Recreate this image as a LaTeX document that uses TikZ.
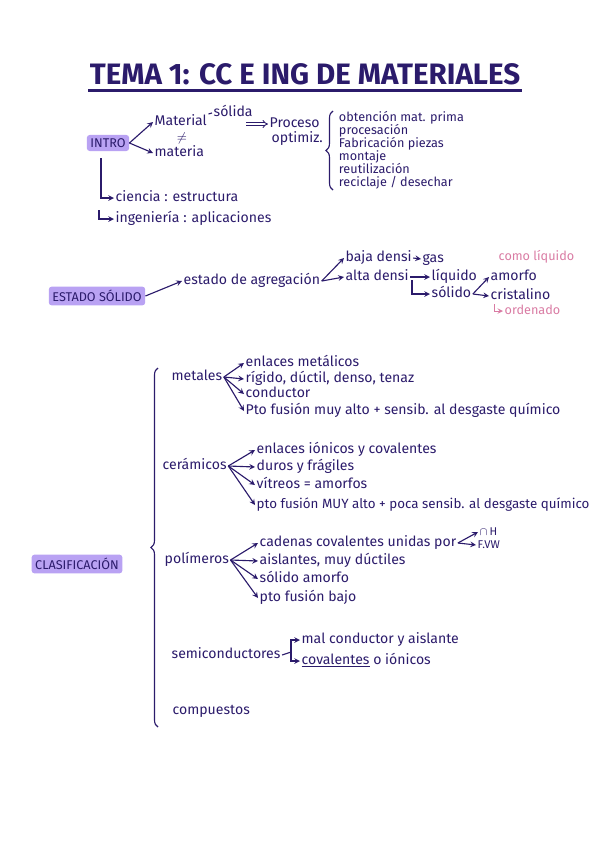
\documentclass[tikz,border=0pt]{standalone}
\usepackage{fontspec}
\setmainfont{Fira Sans}
\usepackage{tikz}
\usetikzlibrary{arrows.meta, decorations.pathreplacing}
\definecolor{ink}{HTML}{2B1B6B}
\definecolor{marker}{HTML}{B9A2F3}
\definecolor{notepink}{HTML}{D97BA3}
\tikzstyle{txt} = [inner sep=1pt, text height=7pt, text depth=2pt, text=ink, font=\fontsize{10}{12}\selectfont]
\tikzstyle{leaf} = [txt, anchor=west]
\tikzstyle{listleaf} = [leaf, inner sep=0.5pt, text height=6.5pt, text depth=1.5pt, font=\fontsize{9}{11}\selectfont]
\tikzstyle{pinknote} = [leaf, text=notepink, font=\fontsize{9}{11}\selectfont]
\tikzstyle{marked} = [rectangle, rounded corners=2pt, fill=marker, text=ink, inner sep=2.5pt, font=\fontsize{9}{11}\selectfont]
\tikzstyle{heading} = [inner sep=1pt, text=ink, font=\fontsize{21}{24}\selectfont\bfseries]
\tikzstyle{arrow} = [ink, line width=0.8pt, ->, >=stealth]
\tikzstyle{pinkarrow} = [notepink, line width=0.7pt, ->, >=stealth]
\tikzstyle{curly} = [ink, line width=0.8pt, decorate, decoration={brace, amplitude=5pt}]

\begin{document}
\begin{tikzpicture}[x=0.025cm, y=-0.025cm]
    \useasboundingbox (0,0) rectangle (600,848);

    % ===============================
    % 1. TITLE
    % ===============================
    \node[heading] (title) at (305,74) {TEMA 1: CC E ING DE MATERIALES};
    \draw[ink, line width=2pt] ([yshift=-3pt]title.south west) -- ([yshift=-3pt]title.south east);

    % ===============================
    % 2. INTRO
    % ===============================
    \node[marked] (intro) at (108,143) {INTRO};
    \node[leaf] (material) at (153,122) {Material};
    \node[txt, inner sep=0pt, text height=5pt, text depth=0.5pt, font=\fontsize{9}{10}\selectfont] (neq) at (182,138.5) {$\neq$};
    \node[leaf] (materia) at (153,153) {materia};
    \node[leaf] (solida) at (212,113) {sólida};
    \node[leaf] (proceso) at (268,124) {Proceso};
    \node[leaf] (optimiz) at (270,139) {optimiz.};
    \coordinate (procin) at (246,124);

    % list of the process
    \node[listleaf] (obtencion) at (338,118) {obtención mat. prima};
    \node[listleaf] (procesacion) at (338,131) {procesación};
    \node[listleaf] (fabricacion) at (338,144) {Fabricación piezas};
    \node[listleaf] (montaje) at (338,157) {montaje};
    \node[listleaf] (reutilizacion) at (338,170) {reutilización};
    \node[listleaf] (reciclaje) at (338,183) {reciclaje / desechar};

    % ciencia / ingenieria
    \node[leaf] (ciencia) at (114,198) {ciencia : estructura};
    \node[leaf] (ingenieria) at (114,219) {ingeniería : aplicaciones};
    \coordinate (introstem) at (101,158);
    \coordinate (ingstem) at (99,210);

    \draw[arrow] (intro.east) -- (material.west);
    \draw[arrow] (intro.east) -- (materia.west);
    \draw[ink, line width=0.8pt] (material.north east) -- (solida.west);
    \draw[ink, double, double distance=1.3pt, line width=0.6pt, -{Implies}] (procin) -- (proceso.west);
    \draw[curly] (333,190) -- (333,111);
    \draw[arrow] (introstem) |- (ciencia.west);
    \draw[arrow] (ingstem) |- (ingenieria.west);

    % ===============================
    % 3. ESTADO SOLIDO
    % ===============================
    \node[marked] (estado) at (97,296) {ESTADO SÓLIDO};
    \node[leaf] (agregacion) at (182,281) {estado de agregación};
    \node[leaf] (baja) at (344,258) {baja densi};
    \node[leaf] (gas) at (421,259) {gas};
    \node[leaf] (alta) at (344,277) {alta densi};
    \node[leaf] (liquido) at (430,277) {líquido};
    \node[leaf] (solido) at (430,294) {sólido};
    \node[leaf] (amorfo) at (489,277) {amorfo};
    \node[leaf] (cristalino) at (489,296) {cristalino};
    \node[pinknote] (comoliq) at (497,257) {como líquido};
    \node[pinknote] (ordenado) at (503,311) {ordenado};
    \coordinate (altastem) at (412,280);
    \coordinate (ordstem) at (494,304);

    \draw[arrow] (estado.east) -- (agregacion.west);
    \draw[arrow] (agregacion.east) -- (baja.west);
    \draw[arrow] (agregacion.east) -- (alta.west);
    \draw[arrow] (baja.east) -- (gas.west);
    \draw[arrow] (alta.east) -- (liquido.west);
    \draw[arrow] (altastem) |- (solido.west);
    \draw[arrow] (solido.east) -- (amorfo.west);
    \draw[arrow] (solido.east) -- (cristalino.west);
    \draw[pinkarrow] (ordstem) |- (ordenado.west);

    % ===============================
    % 4. CLASIFICACION
    % ===============================
    \node[marked] (clasif) at (77,564) {CLASIFICACIÓN};
    \draw[curly] (158,727) -- (158,368);

    % metales
    \node[leaf] (metales) at (170,377) {metales};
    \node[leaf] (met1) at (244,363) {enlaces metálicos};
    \node[leaf] (met2) at (244,379) {rígido, dúctil, denso, tenaz};
    \node[leaf] (met3) at (244,394) {conductor};
    \node[leaf] (met4) at (244,411) {Pto fusión muy alto + sensib. al desgaste químico};
    \draw[arrow] (metales.east) -- (met1.west);
    \draw[arrow] (metales.east) -- (met2.west);
    \draw[arrow] (metales.east) -- (met3.west);
    \draw[arrow] (metales.east) -- (met4.west);

    % ceramicos
    \node[leaf] (ceramicos) at (161,466) {cerámicos};
    \node[leaf] (cer1) at (255,450) {enlaces iónicos y covalentes};
    \node[leaf] (cer2) at (255,467) {duros y frágiles};
    \node[leaf] (cer3) at (255,485) {vítreos = amorfos};
    \node[leaf, font=\fontsize{9.5}{11}\selectfont] (cer4) at (255,505) {pto fusión MUY alto + poca sensib. al desgaste químico};
    \draw[arrow] (ceramicos.east) -- (cer1.west);
    \draw[arrow] (ceramicos.east) -- (cer2.west);
    \draw[arrow] (ceramicos.east) -- (cer3.west);
    \draw[arrow] (ceramicos.east) -- (cer4.west);

    % polimeros
    \node[leaf] (polimeros) at (163,560) {polímeros};
    \node[leaf] (pol1) at (258,543) {cadenas covalentes unidas por};
    \node[leaf] (pol2) at (258,561) {aislantes, muy dúctiles};
    \node[leaf] (pol3) at (258,579) {sólido amorfo};
    \node[leaf] (pol4) at (258,598) {pto fusión bajo};
    \node[leaf, text height=5.5pt, text depth=0.5pt, font=\fontsize{8}{10}\selectfont] (puenteh) at (478,532) {$\cap$\,H};
    \node[leaf, text height=5.5pt, text depth=0.5pt, font=\fontsize{8}{10}\selectfont] (fvw) at (476,545) {F.VW};
    \draw[arrow] (polimeros.east) -- (pol1.west);
    \draw[arrow] (polimeros.east) -- (pol2.west);
    \draw[arrow] (polimeros.east) -- (pol3.west);
    \draw[arrow] (polimeros.east) -- (pol4.west);
    \draw[arrow] (pol1.east) -- (puenteh.west);
    \draw[arrow] (pol1.east) -- (fvw.west);

    % semiconductores
    \node[leaf] (semicond) at (170,655) {semiconductores};
    \node[leaf] (semi1) at (300,640) {mal conductor y aislante};
    \node[leaf] (semi2) at (300,661) {\underline{covalentes} o iónicos};
    \coordinate (semifork) at (291,652);
    \draw[ink, line width=0.8pt] (semicond.east) -- (semifork);
    \draw[arrow] (semifork) |- (semi1.west);
    \draw[arrow] (semifork) |- (semi2.west);

    % compuestos
    \node[leaf] (compuestos) at (171,711) {compuestos};

\end{tikzpicture}
\end{document}
